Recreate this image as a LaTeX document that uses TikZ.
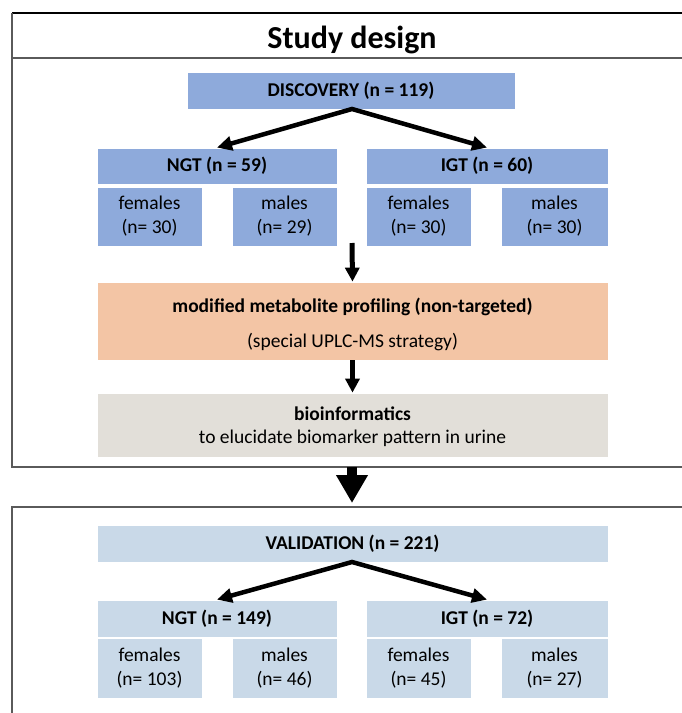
\documentclass[tikz,border=0pt]{standalone}
\usepackage{fontspec}
\setmainfont{Carlito}
\usetikzlibrary{arrows.meta}
\definecolor{discblue}{HTML}{8EAADB}
\definecolor{valblue}{HTML}{C9D9E8}
\definecolor{profpeach}{HTML}{F3C5A5}
\definecolor{biogray}{HTML}{E2DFD9}
\definecolor{framegray}{HTML}{5A5A5A}
\begin{document}
\begin{tikzpicture}[x=1pt,y=-1pt,
  frameline/.style={draw=framegray, line width=2pt},
  boxbase/.style={draw=white, line width=0.8pt, inner sep=0pt, align=center,
    font=\fontsize{19.5}{24}\selectfont},
  dbox/.style={boxbase, fill=discblue},
  vbox/.style={boxbase, fill=valblue},
  pbox/.style={boxbase, fill=profpeach},
  gbox/.style={boxbase, fill=biogray, font=\fontsize{19.5}{23}\selectfont},
  headbox/.style={minimum height=37pt},
  groupbox/.style={minimum height=36pt},
  sexbox/.style={minimum height=59pt},
  splitarrow/.style={line width=4.5pt, line join=miter,
    arrows={Triangle[length=15pt,width=14pt]-Triangle[length=15pt,width=14pt]}},
  downarrow/.style={line width=5pt, -{Triangle[length=14pt,width=14pt]}},
  bigarrow/.style={line width=10pt, -{Triangle[length=28pt,width=30pt]}},
  titletext/.style={inner sep=0pt, font=\fontsize{32}{38}\selectfont\bfseries}
]
\useasboundingbox (0,0) rectangle (681,713);

% frames
\draw[black, line width=1.5pt] (700,13) -- (11.7,13);
\draw[frameline] (11.7,13) -- (11.7,467) -- (700,467);
\draw[frameline] (700,58) -- (11.7,58);
\draw[frameline] (700,507) -- (11.7,507) -- (11.7,730);

\node[titletext] (title) at (352,39.5) {Study design};

% discovery
\node[dbox, headbox, minimum width=328pt] (disc) at (351,90.5) {\bfseries DISCOVERY (n = 119)};
\node[dbox, groupbox, minimum width=240pt] (ngt) at (217,166) {\bfseries NGT (n = 59)};
\node[dbox, groupbox, minimum width=242pt] (igt) at (487,166) {\bfseries IGT (n = 60)};
\node[dbox, sexbox, minimum width=105pt] (ngtf) at (149.5,216.5) {females\\(n= 30)};
\node[dbox, sexbox, minimum width=105pt] (ngtm) at (284.5,216.5) {males\\(n= 29)};
\node[dbox, sexbox, minimum width=105pt] (igtf) at (418.5,216.5) {females\\(n= 30)};
\node[dbox, sexbox, minimum width=107pt] (igtm) at (554.5,216.5) {males\\(n= 30)};

\node[pbox, minimum width=511pt, minimum height=78pt] (prof) at (352.5,321)
  {\rule{0pt}{22pt}\bfseries modified metabolite profiling (non-targeted)\\[11pt](special UPLC-MS strategy)};
\node[gbox, minimum width=511pt, minimum height=64pt] (bio) at (352.5,425)
  {\rule{0pt}{18pt}\bfseries bioinformatics\\to elucidate biomarker pattern in urine};

% validation
\node[vbox, headbox, minimum width=511pt] (val) at (352.5,543.5) {\bfseries VALIDATION (n = 221)};
\node[vbox, headbox, minimum width=240pt] (vngt) at (217,618.5) {\bfseries NGT (n = 149)};
\node[vbox, headbox, minimum width=242pt] (vigt) at (487,618.5) {\bfseries IGT (n = 72)};
\node[vbox, minimum height=60pt, minimum width=105pt] (vngtf) at (149.5,668) {females\\(n= 103)};
\node[vbox, minimum height=60pt, minimum width=105pt] (vngtm) at (284.5,668) {males\\(n= 46)};
\node[vbox, minimum height=60pt, minimum width=105pt] (vigtf) at (418.5,668) {females\\(n= 45)};
\node[vbox, minimum height=60pt, minimum width=107pt] (vigtm) at (554.5,668) {males\\(n= 27)};

% connectors
\coordinate (apex1) at (352,109);
\coordinate (apex2) at (352,562);
\coordinate (down1) at (352,243);
\coordinate (f1s) at (352,467);
\coordinate (f2n) at (352,503);

\draw[splitarrow] (ngt.north) -- (apex1) -- (igt.north);
\draw[downarrow] (down1) -- (prof.north);
\draw[downarrow] (prof.south) -- (bio.north);
\draw[bigarrow] (f1s) -- (f2n);
\draw[splitarrow] (vngt.north) -- (apex2) -- (vigt.north);
\end{tikzpicture}
\end{document}
